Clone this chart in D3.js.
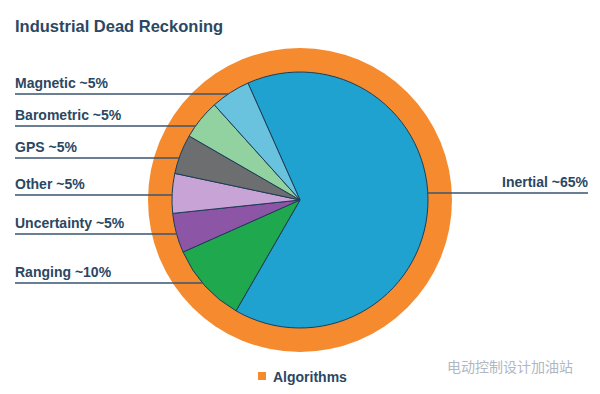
<!DOCTYPE html>
<html>
<head>
<meta charset="utf-8">
<script src="https://cdn.jsdelivr.net/npm/d3@7"></script>
<style>
  body { margin: 0; background: #fff; }
  text { font-family: "Liberation Sans", Arial, sans-serif; font-weight: bold; }
</style>
</head>
<body>
<div id="chart"></div>
<script>
// data
var categories = ["Inertial", "Ranging", "Uncertainty", "Other", "GPS", "Barometric", "Magnetic"];
var shares = [65, 10, 5, 5, 5, 5, 5];
var labels = ["Inertial ~65%", "Ranging ~10%", "Uncertainty ~5%", "Other ~5%", "GPS ~5%", "Barometric ~5%", "Magnetic ~5%"];
var colors = ["#1fa2cf", "#1fa84d", "#8d55a6", "#c7a3d6", "#6d6e70", "#92d2a0", "#6ac3de"];

var width = 600, height = 394;
var cx = 300, cy = 200;
var rOuter = 152, rPie = 128;
var textColor = "#2b4762";
var lineColor = "#3a5570";

// label layout: line y position for each category (same order)
var lineY = [193, 283, 234, 195, 158, 126, 94];

var svg = d3.select("#chart")
  .append("svg")
  .attr("width", width)
  .attr("height", height)

// title
svg.append("text")
  .attr("x", 15)
  .attr("y", 32)
  .attr("fill", textColor)
  .style("font-size", "16.5px")
  .text("Industrial Dead Reckoning")

// orange algorithms ring
svg.append("circle")
  .attr("cx", cx)
  .attr("cy", cy)
  .attr("r", rOuter)
  .attr("fill", "#f58a2e")

var pie = d3.pie()
  .sort(null)
  .startAngle(-24 * Math.PI / 180)
  .endAngle(336 * Math.PI / 180)
  .value(function(d) { return d; })

var arc = d3.arc().innerRadius(0).outerRadius(rPie)

var g = svg.append("g")
  .attr("transform", "translate(" + cx + "," + cy + ")")

g.selectAll("path")
  .data(pie(shares))
  .enter()
  .append("path")
  .attr("d", arc)
  .attr("fill", function(d, i) { return colors[i]; })
  .attr("stroke", "#1d3d58")
  .attr("stroke-width", 1)
  .attr("stroke-linejoin", "round")

// leader lines + labels
categories.forEach(function(c, i) {
  var y = lineY[i];
  var dx = Math.sqrt(rPie * rPie - (y - cy) * (y - cy));
  var right = i === 0;
  svg.append("line")
    .attr("x1", right ? cx + dx : 15)
    .attr("x2", right ? 588 : cx - dx)
    .attr("y1", y)
    .attr("y2", y)
    .attr("stroke", lineColor)
    .attr("stroke-width", 1.5)
  svg.append("text")
    .attr("x", right ? 588 : 15)
    .attr("y", y - 6)
    .attr("text-anchor", right ? "end" : "start")
    .attr("fill", textColor)
    .style("font-size", "14px")
    .text(labels[i])
});

// legend
svg.append("rect")
  .attr("x", 258)
  .attr("y", 372)
  .attr("width", 8)
  .attr("height", 8)
  .attr("fill", "#f58a2e")
svg.append("text")
  .attr("x", 273)
  .attr("y", 382)
  .attr("fill", textColor)
  .style("font-size", "14px")
  .text("Algorithms")

// watermark
svg.append("text")
  .attr("x", 447)
  .attr("y", 372)
  .attr("fill", "#9aa6b4")
  .attr("opacity", 0.8)
  .style("font-size", "14px")
  .style("font-weight", "normal")
  .style("font-family", "'Noto Sans CJK SC', sans-serif")
  .text("电动控制设计加油站")
</script>
</body>
</html>
